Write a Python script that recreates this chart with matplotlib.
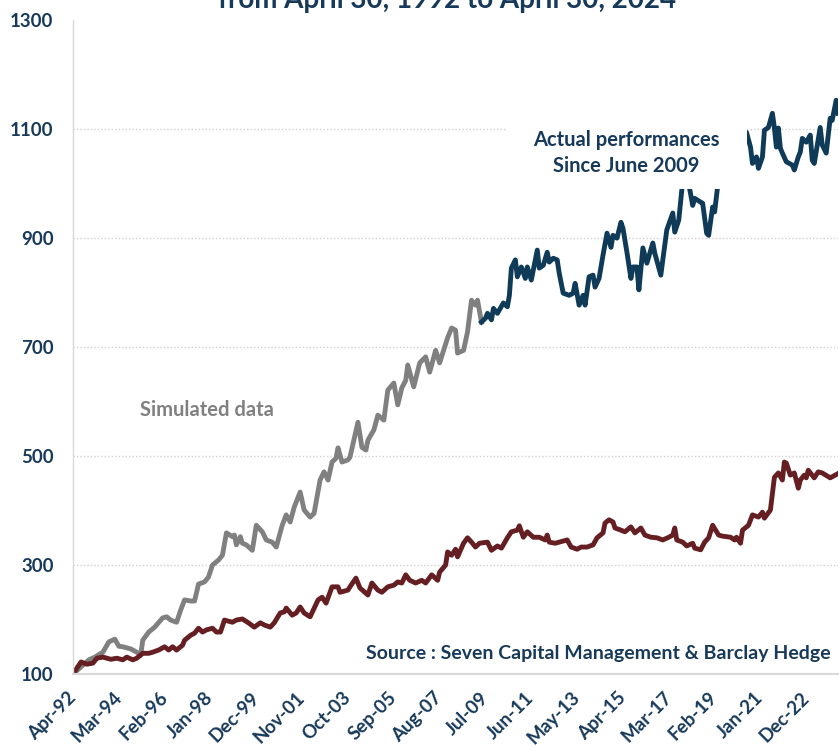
import matplotlib
matplotlib.use("Agg")
import matplotlib.pyplot as plt
from matplotlib.patches import Rectangle

# ---------------- data (months since Apr-1992, index value) ----------------
sim_months = [0, 8, 11, 15, 18, 21, 23, 25, 29, 32, 34, 35, 38, 41, 45, 47, 49, 52, 54, 56,
              59, 61, 63, 66, 68, 70, 73, 75, 77, 80, 81, 82, 84, 85, 87, 90, 92, 95, 97, 100,
              102, 105, 107, 109, 111, 114, 116, 119, 121, 124, 126, 128, 130, 132, 133, 135,
              138, 139, 143, 145, 147, 148, 151, 153, 156, 158, 161, 163, 165, 167, 168, 171,
              174, 177, 179, 182, 184, 188, 190, 192, 193, 196, 198, 200, 202, 203, 205]
sim_values = [100, 126, 131, 140, 159, 164, 151, 150, 146, 140, 135, 162, 177, 186, 203, 205, 199, 195, 217, 236,
              234, 234, 265, 269, 278, 300, 309, 318, 359, 352, 355, 337, 352, 340, 337, 327, 373, 361, 346, 342,
              333, 373, 392, 379, 406, 434, 401, 388, 395, 456, 471, 456, 489, 496, 515, 489,
              493, 498, 562, 516, 511, 529, 548, 575, 566, 621, 634, 594, 625, 639, 667, 627,
              671, 682, 654, 694, 671, 717, 735, 731, 689, 694, 728, 786, 777, 786, 746]

act_months = [205, 207, 208, 210, 211, 213, 216, 218, 219, 220, 222, 223, 225, 227, 228, 230, 233, 234, 236, 238,
              239, 241, 243, 244, 246, 249, 251, 252, 254, 256, 257, 259, 261, 262, 264, 266, 268, 270, 271, 273,
              275, 276, 278, 280, 281, 283, 284, 286, 288, 291, 292, 295, 296, 298, 301, 302, 304, 306, 309, 311,
              312, 315, 316, 318, 319, 321, 322, 324, 327, 330, 334, 338, 340, 341, 343, 344, 346, 347, 349, 351,
              352, 353, 354, 355, 356, 358, 361, 362, 364, 365, 366, 368, 370, 371, 372, 375, 376, 378, 380, 381,
              383, 384]
act_values = [746, 753, 762, 750, 771, 762, 781, 774, 795, 845, 860, 829, 847, 826, 847, 823, 878, 845, 850, 874,
              856, 863, 860, 836, 799, 795, 799, 817, 777, 795, 777, 829, 832, 810, 826, 869, 909, 883, 905, 900,
              929, 918, 874, 826, 847, 847, 805, 882, 854, 891, 872, 832, 860, 915, 946, 911, 933, 1005, 1000, 960,
              973, 966, 964, 909, 905, 957, 948, 1010, 1045, 1035, 1070, 1094, 1067, 1037, 1049, 1028, 1049, 1098, 1103, 1129,
              1102, 1067, 1102, 1065, 1056, 1040, 1034, 1025, 1049, 1058, 1083, 1076, 1089, 1043, 1037, 1103, 1071, 1056, 1120, 1116,
              1153, 1129]

bench_months = [0, 4, 7, 10, 12, 15, 19, 22, 25, 27, 30, 32, 35, 38, 40, 43, 45, 46, 48, 50,
                52, 55, 56, 59, 61, 63, 65, 67, 70, 72, 74, 76, 80, 82, 85, 88, 91, 94, 96, 99,
                101, 104, 106, 107, 110, 112, 114, 116, 119, 123, 125, 127, 130, 133, 134, 138, 139, 142,
                144, 148, 150, 153, 155, 158, 161, 163, 165, 167, 169, 172, 175, 177, 180, 183, 184, 187,
                188, 190, 192, 193, 196, 198, 200, 202, 204, 208, 210, 213, 215, 218, 220, 223, 224, 226,
                228, 231, 234, 237, 238, 239, 242, 244, 248, 250, 253, 255, 258, 261, 263, 266, 267, 269,
                271, 272, 275, 277, 280, 282, 285, 287, 290, 293, 296, 299, 301, 302, 303, 306, 308, 311,
                312, 315, 317, 319, 321, 324, 326, 330, 332, 333, 335, 336, 339, 341, 344, 346, 347, 350,
                352, 354, 356, 357, 358, 360, 362, 364, 365, 367, 368, 369, 372, 374, 376, 380, 384]
bench_values = [100, 122, 118, 120, 129, 131, 127, 129, 126, 131, 126, 129, 138, 138, 140, 144, 148, 150, 144, 150,
                144, 153, 162, 171, 175, 184, 177, 181, 184, 177, 177, 199, 195, 199, 201, 194, 186, 194, 190, 186,
                194, 212, 214, 221, 208, 212, 223, 212, 205, 236, 241, 230, 260, 260, 250, 254, 260, 276,
                258, 245, 267, 254, 250, 260, 263, 269, 267, 282, 272, 267, 272, 267, 282, 272, 287, 300,
                324, 318, 329, 315, 340, 350, 342, 333, 340, 342, 327, 335, 331, 350, 361, 364, 372, 351,
                361, 351, 351, 346, 355, 342, 340, 342, 346, 333, 329, 333, 333, 337, 350, 359, 377, 383,
                379, 368, 364, 361, 370, 359, 368, 355, 351, 350, 346, 351, 355, 368, 346, 342, 335, 340,
                331, 328, 342, 350, 373, 355, 353, 351, 346, 351, 340, 364, 373, 392, 388, 397, 386, 401,
                461, 469, 456, 489, 487, 465, 469, 441, 456, 465, 460, 474, 460, 471, 469, 460, 468]

tick_months = [0, 23, 46, 69, 92, 115, 138, 161, 184, 207, 230, 253, 276, 299, 322, 345, 368]
tick_labels = ["Apr-92", "Mar-94", "Feb-96", "Jan-98", "Dec-99", "Nov-01", "Oct-03", "Sep-05",
               "Aug-07", "Jul-09", "Jun-11", "May-13", "Apr-15", "Mar-17", "Feb-19", "Jan-21", "Dec-22"]
y_ticks = [100, 300, 500, 700, 900, 1100, 1300]

# ---------------- style ----------------
NAVY = "#0f3a58"
TEXT = "#17395a"
GREY = "#808080"
RED = "#651f22"
FONT = "Lato"
FS = 14.5

fig = plt.figure(figsize=(8.39, 7.46), dpi=100)
ax = fig.add_axes([0.087, 0.0965, 0.912, 0.8765])

ax.plot(sim_months, sim_values, color=GREY, lw=3.5, zorder=2, solid_joinstyle="round")
ax.plot(bench_months, bench_values, color=RED, lw=3.5, zorder=2, solid_joinstyle="round")
ax.plot(act_months, act_values, color=NAVY, lw=3.5, zorder=2.1, solid_joinstyle="round")

ax.set_xlim(0, 384)
ax.set_ylim(100, 1300)
ax.set_yticks(y_ticks)
ax.set_yticklabels([str(v) for v in y_ticks], fontsize=13.5, fontweight="bold",
                   color=TEXT, fontfamily=FONT)
ax.set_xticks(tick_months)
ax.set_xticklabels(tick_labels, rotation=45, ha="right", va="center", rotation_mode="anchor",
                   fontsize=13.5, fontweight="bold", color=TEXT, fontfamily=FONT)
ax.tick_params(axis="both", length=0)
ax.tick_params(axis="y", pad=14)
ax.tick_params(axis="x", pad=15)

ax.yaxis.grid(True, color="#d0d0d0", linestyle=(0, (1, 1.5)), linewidth=1.0, zorder=0)
ax.get_ygridlines()[-1].set_visible(False)
ax.get_ygridlines()[0].set_visible(False)
ax.set_axisbelow(True)

for s in ["top", "right"]:
    ax.spines[s].set_visible(False)
ax.spines["left"].set_color("#d9d9d9")
ax.spines["left"].set_linewidth(1.0)
ax.spines["bottom"].set_color("#d9d9d9")
ax.spines["bottom"].set_linewidth(1.5)

# white label box covering part of the chart
ax.add_patch(Rectangle((217.5, 990), 120.5, 230, facecolor="white", edgecolor="none", zorder=3))
ax.text(277.5, 1056, "Actual performances\nSince June 2009", ha="center", va="center",
        fontsize=FS, fontweight="bold", color=TEXT, fontfamily=FONT, zorder=4, linespacing=1.35)

ax.text(67, 584, "Simulated data", ha="center", va="center", fontsize=FS, fontweight="bold",
        color=GREY, fontfamily=FONT, zorder=4)

ax.text(380, 137, "Source : Seven Capital Management & Barclay Hedge", ha="right", va="center",
        fontsize=14, fontweight="bold", color=TEXT, fontfamily=FONT, zorder=4)

fig.text(0.533, 1 - 8 / 746, "from April 30, 1992 to April 30, 2024", ha="center", va="baseline",
         fontsize=20, fontweight="bold", color=TEXT, fontfamily=FONT)

fig.savefig("out.png", dpi=100, facecolor="white")
